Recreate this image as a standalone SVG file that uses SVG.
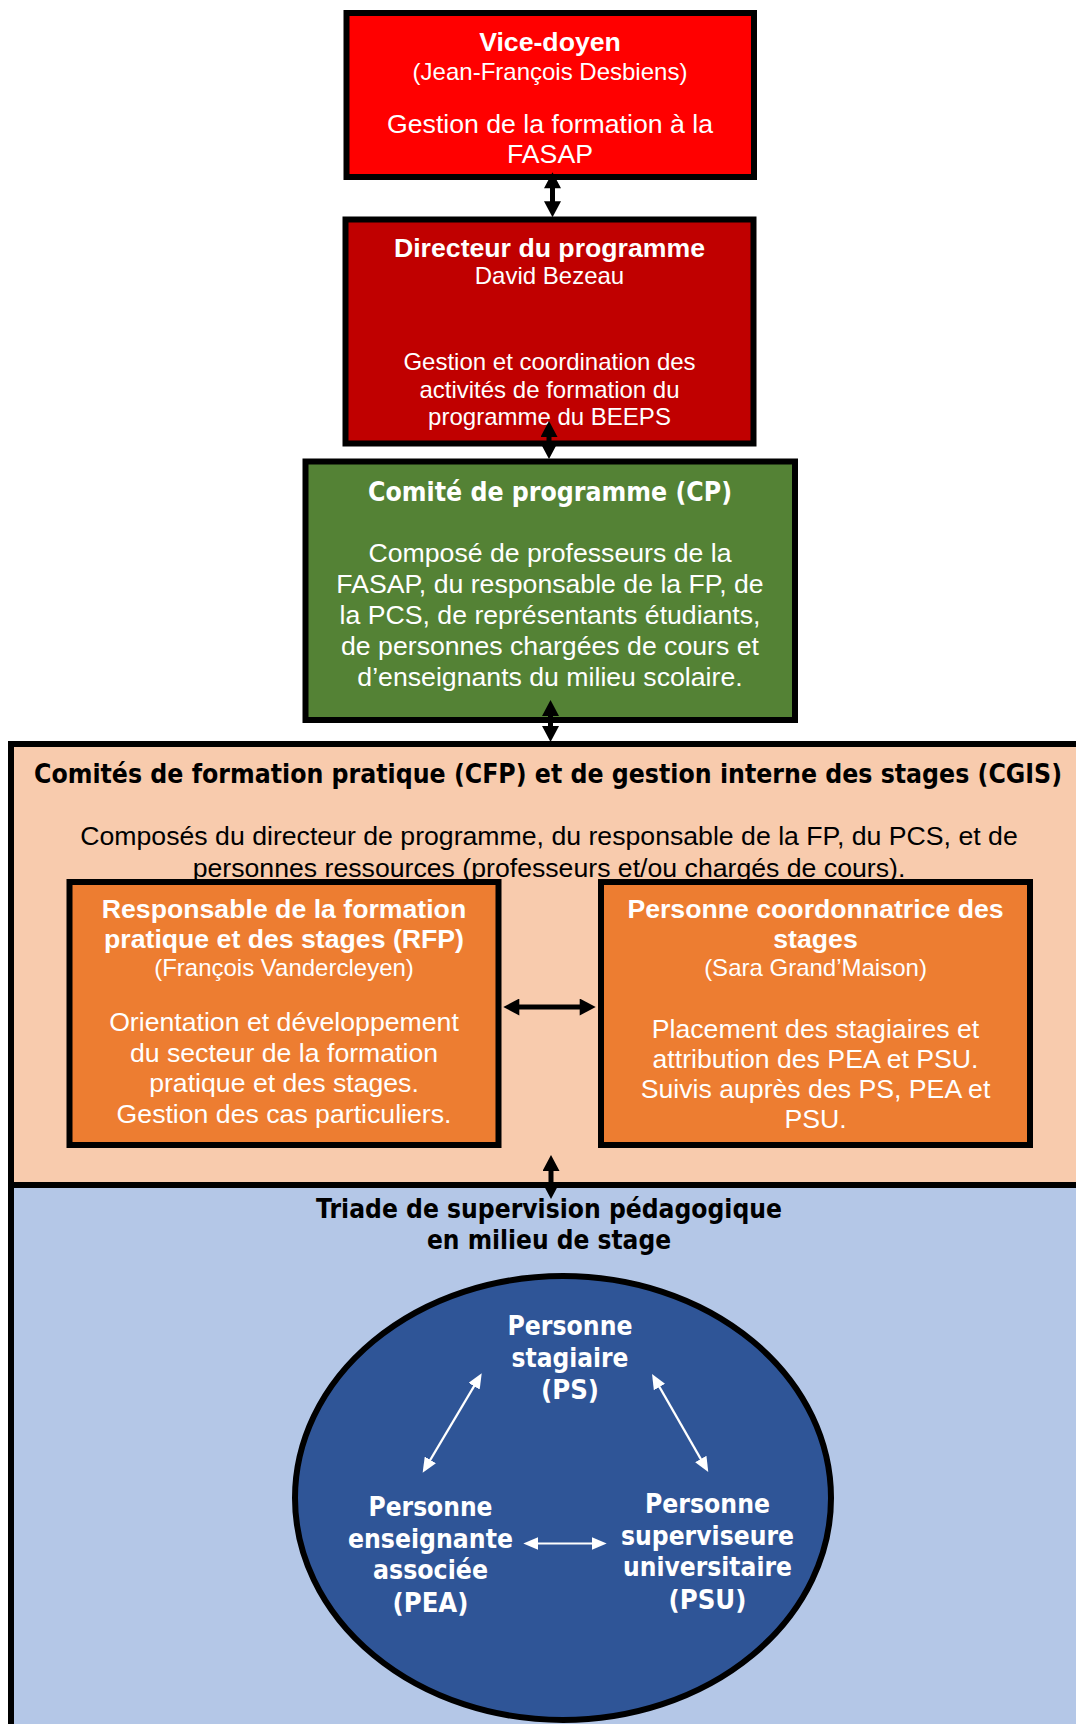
<svg xmlns="http://www.w3.org/2000/svg" width="1076" height="1724" viewBox="0 0 1076 1724">
<style>
.a{font-family:"Liberation Sans",Arial,sans-serif}
.t{font-family:"DejaVu Sans",Verdana,sans-serif;font-weight:bold;font-size:26.67px}
.b{font-weight:bold}
.s24{font-size:24px}
.s27{font-size:26.67px}
.w{fill:#ffffff}
.k{fill:#000000}
.box{stroke:#000;stroke-width:6}
.blk{stroke:#000;stroke-width:5;fill:none;marker-start:url(#hb);marker-end:url(#hb)}
.wht{stroke:#fff;stroke-width:2.2;fill:none;marker-start:url(#hw);marker-end:url(#hw)}
</style>
<defs>
<marker id="hb" markerUnits="userSpaceOnUse" markerWidth="17" markerHeight="17" viewBox="0 0 16 17" refX="4" refY="8.5" orient="auto-start-reverse"><path d="M0,0 L16,8.5 L0,17 z" fill="#000"/></marker>
<marker id="hw" markerUnits="userSpaceOnUse" markerWidth="15" markerHeight="13" viewBox="0 0 15 13" refX="3" refY="6.5" orient="auto-start-reverse"><path d="M0,0 L15,6.5 L0,13 z" fill="#fff"/></marker>
</defs>
<rect width="1076" height="1724" fill="#ffffff"/>

<g id="triade">
<rect class="box" x="11" y="1185" width="1090" height="600" fill="#B4C7E7"/>
<text class="t k" text-anchor="middle" x="549" y="1218" textLength="466" lengthAdjust="spacingAndGlyphs">Triade de supervision pédagogique</text>
<text class="t k" text-anchor="middle" x="549" y="1249" textLength="244" lengthAdjust="spacingAndGlyphs">en milieu de stage</text>
<ellipse class="box" cx="563" cy="1498" rx="268" ry="222" fill="#2F5597"/>
</g>

<g id="ps">
<text class="t w" text-anchor="middle" x="570" y="1335" textLength="125" lengthAdjust="spacingAndGlyphs">Personne</text>
<text class="t w" text-anchor="middle" x="570" y="1367" textLength="117" lengthAdjust="spacingAndGlyphs">stagiaire</text>
<text class="t w" text-anchor="middle" x="570" y="1399" textLength="58" lengthAdjust="spacingAndGlyphs">(PS)</text>
</g>
<g id="pea">
<text class="t w" text-anchor="middle" x="430.5" y="1516" textLength="124" lengthAdjust="spacingAndGlyphs">Personne</text>
<text class="t w" text-anchor="middle" x="430.5" y="1548" textLength="165" lengthAdjust="spacingAndGlyphs">enseignante</text>
<text class="t w" text-anchor="middle" x="430.5" y="1579" textLength="115" lengthAdjust="spacingAndGlyphs">associée</text>
<text class="t w" text-anchor="middle" x="430.5" y="1612" textLength="76" lengthAdjust="spacingAndGlyphs">(PEA)</text>
</g>
<g id="psu">
<text class="t w" text-anchor="middle" x="707.5" y="1513" textLength="125" lengthAdjust="spacingAndGlyphs">Personne</text>
<text class="t w" text-anchor="middle" x="707.5" y="1545" textLength="173" lengthAdjust="spacingAndGlyphs">superviseure</text>
<text class="t w" text-anchor="middle" x="707.5" y="1576" textLength="169" lengthAdjust="spacingAndGlyphs">universitaire</text>
<text class="t w" text-anchor="middle" x="707.5" y="1609" textLength="78" lengthAdjust="spacingAndGlyphs">(PSU)</text>
</g>

<g id="cfp">
<rect class="box" x="11" y="744" width="1090" height="441" fill="#F8CBAD"/>
<text class="t k" text-anchor="middle" x="548" y="783" textLength="1028" lengthAdjust="spacingAndGlyphs">Comités de formation pratique (CFP) et de gestion interne des stages (CGIS)</text>
<text class="a s27 k" text-anchor="middle" x="549" y="845">Composés du directeur de programme, du responsable de la FP, du PCS, et de</text>
<text class="a s27 k" text-anchor="middle" x="549" y="877">personnes ressources (professeurs et/ou chargés de cours).</text>
</g>

<g id="rfp">
<rect class="box" x="69.5" y="882" width="429" height="263" fill="#ED7D31"/>
<text class="a s27 b w" text-anchor="middle" x="284" y="918">Responsable de la formation</text>
<text class="a s27 b w" text-anchor="middle" x="284" y="948">pratique et des stages (RFP)</text>
<text class="a s24 w" text-anchor="middle" x="284" y="976">(François Vandercleyen)</text>
<text class="a s27 w" text-anchor="middle" x="284" y="1031">Orientation et développement</text>
<text class="a s27 w" text-anchor="middle" x="284" y="1062">du secteur de la formation</text>
<text class="a s27 w" text-anchor="middle" x="284" y="1092">pratique et des stages.</text>
<text class="a s27 w" text-anchor="middle" x="284" y="1123">Gestion des cas particuliers.</text>
</g>

<g id="pcs">
<rect class="box" x="601" y="882" width="429" height="263" fill="#ED7D31"/>
<text class="a s27 b w" text-anchor="middle" x="815.5" y="918">Personne coordonnatrice des</text>
<text class="a s27 b w" text-anchor="middle" x="815.5" y="948">stages</text>
<text class="a s24 w" text-anchor="middle" x="815.5" y="976">(Sara Grand’Maison)</text>
<text class="a s27 w" text-anchor="middle" x="815.5" y="1038">Placement des stagiaires et</text>
<text class="a s27 w" text-anchor="middle" x="815.5" y="1068">attribution des PEA et PSU.</text>
<text class="a s27 w" text-anchor="middle" x="815.5" y="1098">Suivis auprès des PS, PEA et</text>
<text class="a s27 w" text-anchor="middle" x="815.5" y="1128">PSU.</text>
</g>

<g id="cp">
<rect class="box" x="305.5" y="461.5" width="489.5" height="258.5" fill="#548235"/>
<text class="t w" text-anchor="middle" x="550" y="501" textLength="364" lengthAdjust="spacingAndGlyphs">Comité de programme (CP)</text>
<text class="a s27 w" text-anchor="middle" x="550" y="562">Composé de professeurs de la</text>
<text class="a s27 w" text-anchor="middle" x="550" y="593">FASAP, du responsable de la FP, de</text>
<text class="a s27 w" text-anchor="middle" x="550" y="624">la PCS, de représentants étudiants,</text>
<text class="a s27 w" text-anchor="middle" x="550" y="655">de personnes chargées de cours et</text>
<text class="a s27 w" text-anchor="middle" x="550" y="686">d’enseignants du milieu scolaire.</text>
</g>

<g id="vice-doyen">
<rect class="box" x="346.5" y="13" width="407.5" height="164" fill="#FF0000"/>
<text class="a s27 b w" text-anchor="middle" x="550" y="51">Vice-doyen</text>
<text class="a s24 w" text-anchor="middle" x="550" y="80">(Jean-François Desbiens)</text>
<text class="a s27 w" text-anchor="middle" x="550" y="133">Gestion de la formation à la</text>
<text class="a s27 w" text-anchor="middle" x="550" y="163">FASAP</text>
</g>

<g id="directeur">
<rect class="box" x="345.5" y="219.5" width="408" height="224" fill="#C00000"/>
<text class="a s27 b w" text-anchor="middle" x="549.5" y="257">Directeur du programme</text>
<text class="a s24 w" text-anchor="middle" x="549.5" y="284">David Bezeau</text>
<text class="a s24 w" text-anchor="middle" x="549.5" y="370">Gestion et coordination des</text>
<text class="a s24 w" text-anchor="middle" x="549.5" y="398">activités de formation du</text>
<text class="a s24 w" text-anchor="middle" x="549.5" y="425">programme du BEEPS</text>
</g>

<g id="connecteurs">
<line class="blk" x1="552.5" y1="184.3" x2="552.5" y2="205.3"/>
<line class="blk" x1="549" y1="433" x2="549" y2="447"/>
<line class="blk" x1="550.5" y1="712" x2="550.5" y2="730"/>
<line class="blk" x1="551" y1="1167" x2="551" y2="1187"/>
<line class="blk" x1="515.3" y1="1007" x2="583.7" y2="1007"/>
<line class="wht" x1="475.6" y1="1383.6" x2="428.8" y2="1462.4"/>
<line class="wht" x1="658" y1="1384.4" x2="702.3" y2="1461.6"/>
<line class="wht" x1="535.3" y1="1543.5" x2="594.7" y2="1543.5"/>
</g>
</svg>
